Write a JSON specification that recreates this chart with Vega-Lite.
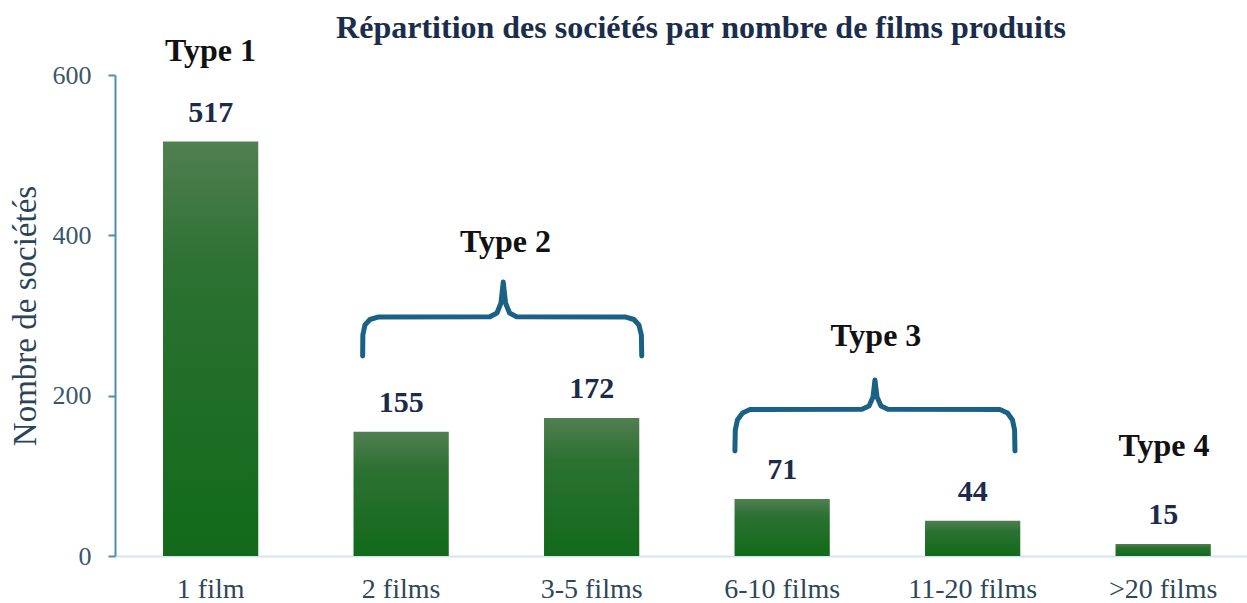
{
  "$schema": "https://vega.github.io/schema/vega-lite/v6.json",
  "width": 1132,
  "height": 481,
  "autosize": {"type": "none"},
  "padding": {"left": 115, "top": 75, "right": 0, "bottom": 47},
  "background": "white",
  "config": {"view": {"stroke": null}, "font": "Liberation Serif"},
  "title": {
    "text": "Répartition des sociétés par nombre de films produits",
    "font": "Liberation Serif",
    "fontSize": 32,
    "fontWeight": "bold",
    "color": "#1a2d4a",
    "frame": "group",
    "anchor": "middle",
    "dx": 20,
    "offset": -10
  },
  "layer": [
    {
      "data": {
        "values": [
          {"cat": "1 film", "n": 517},
          {"cat": "2 films", "n": 155},
          {"cat": "3-5 films", "n": 172},
          {"cat": "6-10 films", "n": 71},
          {"cat": "11-20 films", "n": 44},
          {"cat": ">20 films", "n": 15}
        ]
      },
      "encoding": {
        "x": {
          "field": "cat",
          "type": "nominal",
          "sort": null,
          "title": null,
          "scale": {"paddingInner": 0.5, "paddingOuter": 0.2211, "align": 0.57},
          "axis": {
            "labelAngle": 0,
            "labelFont": "Liberation Serif",
            "labelFontSize": 28,
            "labelColor": "#2e4759",
            "ticks": false,
            "tickSize": 0,
            "labelPadding": 19,
            "domainColor": "#d5e3f3",
            "domainWidth": 2
          }
        },
        "y": {
          "field": "n",
          "type": "quantitative",
          "scale": {"domain": [0, 600], "nice": false},
          "title": "Nombre de sociétés",
          "axis": {
            "values": [0, 200, 400, 600],
            "grid": false,
            "tickSize": 7,
            "tickWidth": 2,
            "tickColor": "#4f8db0",
            "domainColor": "#4f8db0",
            "domainWidth": 2,
            "labelFont": "Liberation Serif",
            "labelFontSize": 26,
            "labelColor": "#3a566b",
            "labelPadding": 17,
            "titleFont": "Liberation Serif",
            "titleFontSize": 33,
            "titleFontWeight": "normal",
            "titleColor": "#2b4459",
            "titlePadding": 10
          }
        }
      },
      "layer": [
        {
          "mark": {
            "type": "bar",
            "color": {
              "gradient": "linear",
              "x1": 0, "y1": 0, "x2": 0, "y2": 1,
              "stops": [
                {"offset": 0, "color": "#517f51"},
                {"offset": 0.3, "color": "#2c7132"},
                {"offset": 1, "color": "#116a19"}
              ]
            }
          }
        },
        {
          "mark": {
            "type": "text",
            "dy": -20,
            "baseline": "alphabetic",
            "font": "Liberation Serif",
            "fontSize": 30,
            "fontWeight": "bold",
            "color": "#1b2b48"
          },
          "encoding": {"text": {"field": "n", "type": "quantitative"}}
        }
      ]
    },
    {
      "data": {
        "values": [
          {"pos": 0, "n": 617.5, "label": "Type 1"},
          {"pos": 1.549, "n": 379, "label": "Type 2"},
          {"pos": 3.493, "n": 262, "label": "Type 3"},
          {"pos": 5.005, "n": 125, "label": "Type 4"}
        ]
      },
      "mark": {
        "type": "text",
        "baseline": "alphabetic",
        "font": "Liberation Serif",
        "fontSize": 32,
        "fontWeight": "bold",
        "color": "#111111"
      },
      "encoding": {
        "x": {"field": "pos", "type": "quantitative", "scale": {"domain": [-0.501, 5.441], "nice": false, "zero": false}, "axis": null},
        "y": {"field": "n", "type": "quantitative", "scale": {"domain": [0, 600], "nice": false}, "title": "Nombre de sociétés"},
        "text": {"field": "label", "type": "nominal"}
      }
    },
    {
      "data": {
        "values": [
          {"b": "t2", "i": 1, "pos": 0.799, "n": 249.5},
          {"b": "t2", "i": 2, "pos": 0.800, "n": 275.7},
          {"b": "t2", "i": 3, "pos": 0.811, "n": 288.2},
          {"b": "t2", "i": 4, "pos": 0.837, "n": 295.0},
          {"b": "t2", "i": 5, "pos": 0.879, "n": 298.1},
          {"b": "t2", "i": 6, "pos": 1.467, "n": 298.5},
          {"b": "t2", "i": 7, "pos": 1.504, "n": 303.1},
          {"b": "t2", "i": 8, "pos": 1.525, "n": 315.6},
          {"b": "t2", "i": 9, "pos": 1.537, "n": 341.8},
          {"b": "t2", "i": 10, "pos": 1.549, "n": 315.6},
          {"b": "t2", "i": 11, "pos": 1.570, "n": 303.1},
          {"b": "t2", "i": 12, "pos": 1.607, "n": 298.5},
          {"b": "t2", "i": 13, "pos": 2.181, "n": 298.1},
          {"b": "t2", "i": 14, "pos": 2.223, "n": 295.0},
          {"b": "t2", "i": 15, "pos": 2.249, "n": 288.2},
          {"b": "t2", "i": 16, "pos": 2.262, "n": 275.7},
          {"b": "t2", "i": 17, "pos": 2.264, "n": 249.5},
          {"b": "t3", "i": 1, "pos": 2.753, "n": 131.0},
          {"b": "t3", "i": 2, "pos": 2.755, "n": 157.2},
          {"b": "t3", "i": 3, "pos": 2.766, "n": 169.6},
          {"b": "t3", "i": 4, "pos": 2.793, "n": 178.4},
          {"b": "t3", "i": 5, "pos": 2.832, "n": 182.7},
          {"b": "t3", "i": 6, "pos": 3.420, "n": 183.0},
          {"b": "t3", "i": 7, "pos": 3.457, "n": 187.1},
          {"b": "t3", "i": 8, "pos": 3.478, "n": 198.3},
          {"b": "t3", "i": 9, "pos": 3.488, "n": 219.5},
          {"b": "t3", "i": 10, "pos": 3.499, "n": 198.3},
          {"b": "t3", "i": 11, "pos": 3.520, "n": 187.1},
          {"b": "t3", "i": 12, "pos": 3.556, "n": 183.0},
          {"b": "t3", "i": 13, "pos": 4.144, "n": 182.7},
          {"b": "t3", "i": 14, "pos": 4.184, "n": 178.4},
          {"b": "t3", "i": 15, "pos": 4.210, "n": 169.6},
          {"b": "t3", "i": 16, "pos": 4.221, "n": 157.2},
          {"b": "t3", "i": 17, "pos": 4.223, "n": 131.0}
        ]
      },
      "mark": {
        "type": "line",
        "color": "#1b6185",
        "strokeWidth": 5,
        "strokeCap": "round",
        "strokeJoin": "round"
      },
      "encoding": {
        "x": {"field": "pos", "type": "quantitative", "scale": {"domain": [-0.501, 5.441], "nice": false, "zero": false}, "axis": null},
        "y": {"field": "n", "type": "quantitative", "scale": {"domain": [0, 600], "nice": false}, "title": "Nombre de sociétés"},
        "detail": {"field": "b", "type": "nominal"},
        "order": {"field": "i", "type": "quantitative"}
      }
    }
  ],
  "resolve": {"scale": {"x": "independent"}}
}
